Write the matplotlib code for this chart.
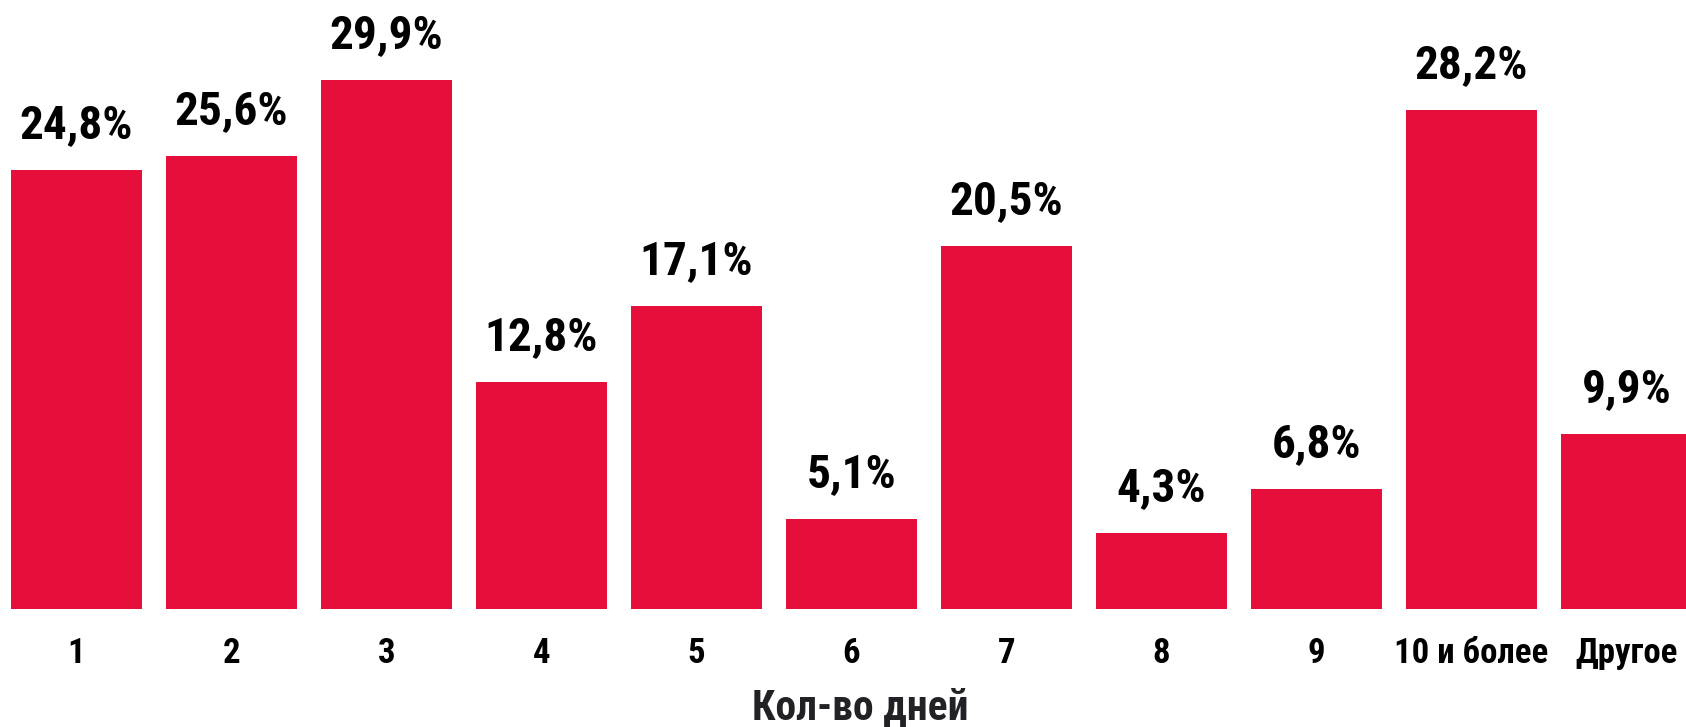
import matplotlib
matplotlib.use('Agg')
from matplotlib import pyplot as plt
from matplotlib import font_manager as fm

categories = ['1', '2', '3', '4', '5', '6', '7', '8', '9', '10 и более', 'Другое']
values = [24.8, 25.6, 29.9, 12.8, 17.1, 5.1, 20.5, 4.3, 6.8, 28.2, 9.9]
labels = ['24,8%', '25,6%', '29,9%', '12,8%', '17,1%', '5,1%', '20,5%',
          '4,3%', '6,8%', '28,2%', '9,9%']

installed = {f.name for f in fm.fontManager.ttflist}
family = [f for f in ['Liberation Sans Narrow', 'Roboto Condensed', 'Open Sans Condensed']
          if f in installed] + ['DejaVu Sans']
plt.rcParams['font.family'] = family
plt.rcParams['font.weight'] = 'bold'

fig = plt.figure(figsize=(16.86, 7.27), dpi=100)
ax = fig.add_axes([0, 118 / 727, 1, 609 / 727])

x = list(range(len(categories)))
bars = ax.bar(x, values, width=131 / 155, color='#E60E3A')

for b, lab in zip(bars, labels):
    ax.annotate(lab, (b.get_x() + b.get_width() / 2, b.get_height()),
                xytext=(0, 23), textcoords='offset points',
                ha='center', va='baseline', fontsize=34, fontweight='bold',
                color='black')

ax.set_xlim(-76.5 / 155, (1686 - 76.5) / 155)
ax.set_ylim(0, 609 / 17.7)
ax.set_xticks(x)
ax.set_xticklabels(categories, fontsize=25, fontweight='bold', color='black')
ax.tick_params(axis='x', length=0, pad=20)
ax.set_yticks([])
for s in ax.spines.values():
    s.set_visible(False)

fig.text(860 / 1686, 7 / 727, 'Кол-во дней', ha='center', va='baseline',
         fontsize=30, fontweight='bold', color='#222226')

fig.savefig('out.png', dpi=100)
